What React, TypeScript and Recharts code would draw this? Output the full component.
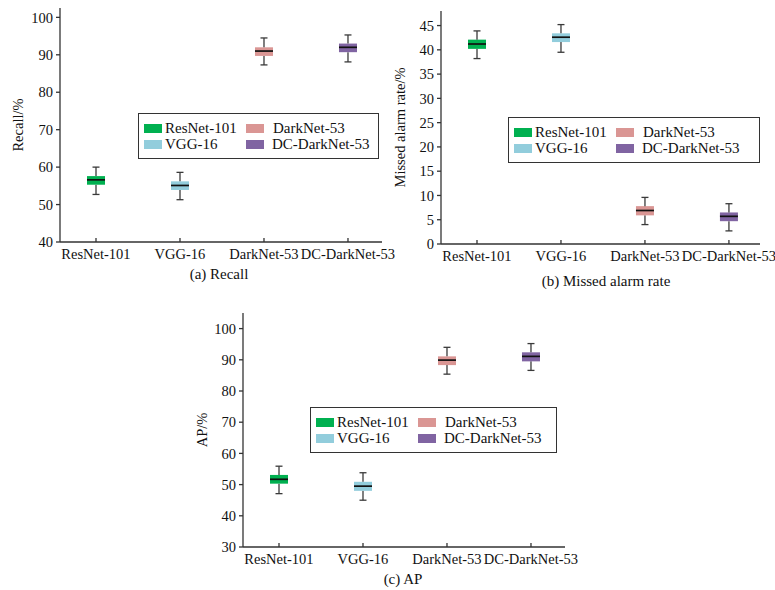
import React from 'react';
import { BarChart, Bar, XAxis, YAxis } from 'recharts';

// categories and box colours
const models = ['ResNet-101', 'VGG-16', 'DarkNet-53', 'DC-DarkNet-53'];
const boxColors = ['#00b050', '#92cddc', '#da9694', '#8064a2'];

// [min, q1, median, q3, max] per model
const recallBoxes = [
  [52.7, 55.3, 56.6, 57.6, 60.0],
  [51.3, 53.9, 55.1, 56.2, 58.6],
  [87.3, 89.7, 91.0, 92.0, 94.5],
  [88.1, 90.7, 92.0, 93.0, 95.3],
];
const missedBoxes = [
  [38.2, 40.2, 41.2, 42.1, 43.9],
  [39.5, 41.6, 42.6, 43.4, 45.2],
  [4.0, 5.9, 6.9, 7.8, 9.6],
  [2.7, 4.7, 5.7, 6.5, 8.3],
];
const apBoxes = [
  [47.1, 50.3, 51.7, 53.1, 55.9],
  [45.0, 48.0, 49.5, 50.9, 53.8],
  [85.4, 88.3, 89.9, 91.1, 94.0],
  [86.6, 89.5, 91.1, 92.4, 95.2],
];

const recallTicks = [40, 50, 60, 70, 80, 90, 100];
const missedTicks = [0, 5, 10, 15, 20, 25, 30, 35, 40, 45];
const apTicks = [30, 40, 50, 60, 70, 80, 90, 100];

const FONT = '"Liberation Serif", "Times New Roman", serif';
const AXIS = '#333';
const WHISKER = '#3a3a3a';

// stacked segments: invisible base, lower whisker, lower box, upper box, upper whisker
const toRows = (boxes: number[][]) =>
  models.map((name, i) => {
    const [mn, q1, md, q3, mx] = boxes[i];
    return { pos: i + 1, name, base: mn, wLow: q1 - mn, bLow: md - q1, bHigh: q3 - md, wHigh: mx - q3 };
  });

const WhiskerLow = (p: any) => {
  const cx = p.x + p.width / 2;
  const bottom = p.y + p.height;
  return (
    <g>
      <line x1={cx} x2={cx} y1={p.y} y2={bottom} stroke={WHISKER} strokeWidth={1.3} />
      <line x1={cx - 3.5} x2={cx + 3.5} y1={bottom} y2={bottom} stroke={WHISKER} strokeWidth={1.3} />
    </g>
  );
};

const WhiskerHigh = (p: any) => {
  const cx = p.x + p.width / 2;
  return (
    <g>
      <line x1={cx} x2={cx} y1={p.y} y2={p.y + p.height} stroke={WHISKER} strokeWidth={1.3} />
      <line x1={cx - 3.5} x2={cx + 3.5} y1={p.y} y2={p.y} stroke={WHISKER} strokeWidth={1.3} />
    </g>
  );
};

const BoxLow = (p: any) => (
  <rect x={p.x} y={p.y} width={p.width} height={p.height} fill={boxColors[p.index]} />
);

const BoxHigh = (p: any) => (
  <g>
    <rect x={p.x} y={p.y} width={p.width} height={p.height} fill={boxColors[p.index]} />
    <line x1={p.x} x2={p.x + p.width} y1={p.y + p.height} y2={p.y + p.height} stroke="#111" strokeWidth={1.7} />
  </g>
);

const BoxLegend = ({ left, top, width }: { left: number; top: number; width: number }) => {
  const sw = (l: number, t: number, c: string) => (
    <div style={{ position: 'absolute', left: l, top: t, width: 18, height: 9, background: c }} />
  );
  const tx = (l: number, t: number, s: string) => (
    <div style={{ position: 'absolute', left: l, top: t, fontSize: 15, lineHeight: '15px', whiteSpace: 'nowrap' }}>{s}</div>
  );
  return (
    <div
      style={{
        position: 'absolute', left, top, width, height: 46, border: '1.3px solid #333',
        background: '#fff', boxSizing: 'border-box', fontFamily: FONT, color: '#111',
      }}
    >
      {sw(5, 10, boxColors[0])}
      {tx(26, 7, models[0])}
      {sw(5, 26, boxColors[1])}
      {tx(26, 23, models[1])}
      {sw(107, 10, boxColors[2])}
      {tx(134, 7, models[2])}
      {sw(107, 26, boxColors[3])}
      {tx(133, 23, models[3])}
    </div>
  );
};

const Caption = ({ cx, cy, text }: { cx: number; cy: number; text: string }) => (
  <div
    style={{
      position: 'absolute', left: cx - 100, top: cy - 8, width: 200, textAlign: 'center',
      fontFamily: FONT, fontSize: 15, lineHeight: '16px', color: '#111',
    }}
  >
    {text}
  </div>
);

type PanelProps = {
  left: number;
  top: number;
  width: number;
  height: number;
  margin: { top: number; right: number; left: number; bottom: number };
  yWidth: number;
  xHeight: number;
  xDomain: number[];
  yDomain: number[];
  yTicks: number[];
  boxes: number[][];
  label: string;
  labelOffset: number;
};

const Panel = (p: PanelProps) => {
  const data = toRows(p.boxes);
  const tickStyle = { fontFamily: FONT, fontSize: 14.5, fill: '#111' };
  return (
    <div style={{ position: 'absolute', left: p.left, top: p.top }}>
      <BarChart width={p.width} height={p.height} data={data} margin={p.margin} barSize={18}>
        <XAxis
          type="number"
          dataKey="pos"
          domain={p.xDomain}
          ticks={[1, 2, 3, 4]}
          interval={0}
          allowDataOverflow
          tickFormatter={(v: number) => models[v - 1]}
          height={p.xHeight}
          tick={tickStyle}
          tickSize={-4}
          tickMargin={11}
          stroke={AXIS}
          strokeWidth={1.3}
        />
        <YAxis
          type="number"
          domain={p.yDomain}
          ticks={p.yTicks}
          interval={0}
          allowDataOverflow
          width={p.yWidth}
          tick={tickStyle}
          tickSize={4}
          tickMargin={3}
          stroke={AXIS}
          strokeWidth={1.3}
          label={{
            value: p.label,
            angle: -90,
            position: 'insideLeft',
            offset: p.labelOffset,
            style: { textAnchor: 'middle', fontFamily: FONT, fontSize: 14.5, fill: '#111' },
          }}
        />
        <Bar dataKey="base" stackId="b" fill="transparent" isAnimationActive={false} />
        <Bar dataKey="wLow" stackId="b" shape={WhiskerLow} isAnimationActive={false} />
        <Bar dataKey="bLow" stackId="b" shape={BoxLow} isAnimationActive={false} />
        <Bar dataKey="bHigh" stackId="b" shape={BoxHigh} isAnimationActive={false} />
        <Bar dataKey="wHigh" stackId="b" shape={WhiskerHigh} isAnimationActive={false} />
      </BarChart>
    </div>
  );
};

export default function App() {
  return (
    <div style={{ position: 'absolute', left: 0, top: 0, width: 775, height: 590, background: '#fff', overflow: 'hidden' }}>
      <Panel
        left={0} top={0} width={400} height={275}
        margin={{ top: 8, right: 18, left: 0, bottom: 0 }}
        yWidth={60} xHeight={33}
        xDomain={[0.5714, 4.405]} yDomain={[40, 102.5]} yTicks={recallTicks}
        boxes={recallBoxes} label="Recall/%" labelOffset={18}
      />
      <Panel
        left={380} top={0} width={395} height={280}
        margin={{ top: 11, right: 15, left: 0, bottom: 0 }}
        yWidth={61} xHeight={36}
        xDomain={[0.5714, 4.37]} yDomain={[0, 48]} yTicks={missedTicks}
        boxes={missedBoxes} label="Missed alarm rate/%" labelOffset={20}
      />
      <Panel
        left={185} top={300} width={400} height={290}
        margin={{ top: 13, right: 20, left: 0, bottom: 0 }}
        yWidth={58} xHeight={43}
        xDomain={[0.5714, 4.405]} yDomain={[30, 105]} yTicks={apTicks}
        boxes={apBoxes} label="AP/%" labelOffset={17}
      />
      <BoxLegend left={138} top={113} width={241} />
      <BoxLegend left={508} top={117} width={252} />
      <BoxLegend left={310} top={407} width={247} />
      <Caption cx={219} cy={274} text="(a) Recall" />
      <Caption cx={606} cy={281} text="(b) Missed alarm rate" />
      <Caption cx={403} cy={579} text="(c) AP" />
    </div>
  );
}
